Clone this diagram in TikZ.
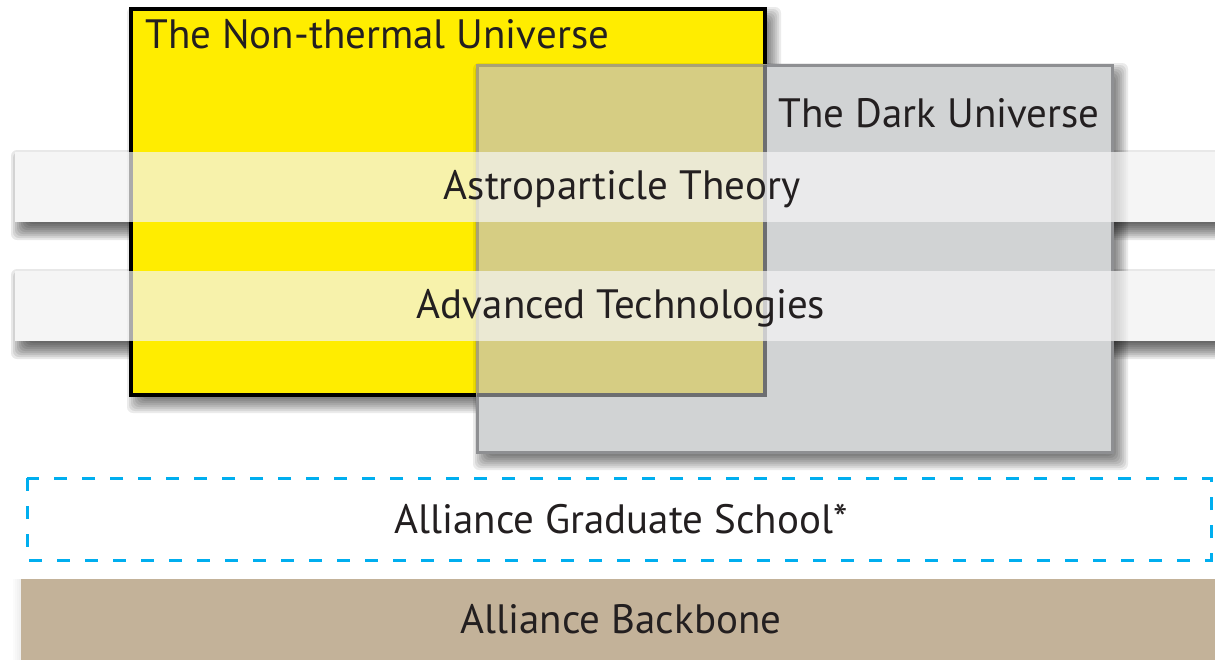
\documentclass[tikz,border=0pt]{standalone}
\usepackage{fontspec}
\setmainfont{PT Sans}
\usepackage{tikz}
\definecolor{ntYellow}{HTML}{FFED00}
\definecolor{darkGrey}{HTML}{D1D3D4}
\definecolor{darkEdge}{HTML}{8E8F92}
\definecolor{mixOlive}{HTML}{D6CD83}
\definecolor{mixEdge}{HTML}{A9A274}
\definecolor{ntEdgeIn}{HTML}{6D6E71}
\definecolor{bandGrey}{HTML}{F5F5F5}
\definecolor{schoolCyan}{HTML}{00AEEF}
\definecolor{boneTan}{HTML}{C3B299}
\definecolor{inkText}{HTML}{231F20}

% soft drop shadow: #1,#2 top left, #3,#4 bottom right, #5 opacity of one step
\newcommand{\softdrop}[5]{%
  \foreach \r in {0,...,9}
    \fill[black, fill opacity=#5, rounded corners=3pt]
      (#1-4+2*\r,#2-2+2*\r) rectangle (#3+16-2*\r,#4+18-2*\r);
}

\begin{document}
\begin{tikzpicture}[
    x=0.5pt, y=-0.5pt,
    bandtext/.style={font=\fontsize{20.5}{23}\selectfont, text=inkText, inner sep=0pt}
]
\clip (0,0) rectangle (1215,659);
\fill[white] (0,0) rectangle (1215,659);

% shadows of the two bands lie under the boxes
\softdrop{15}{152}{1240}{222}{0.09}
\softdrop{15}{271}{1240}{341}{0.09}
\foreach \top in {152,271}
    \fill[bandGrey] (15,\top) rectangle (1240,\top+70);

% science boxes
\softdrop{131}{9}{765}{395}{0.08}
\path[fill=ntYellow, draw=black, line width=1.75pt] (131,9) rectangle (765,395);
\softdrop{477}{65}{1112}{452}{0.08}
\fill[darkGrey] (477,65) rectangle (1112,452);
\fill[mixOlive] (477,65) rectangle (765,395);
\draw[darkEdge, line width=1.5pt] (477,65) rectangle (1112,452);
\draw[mixEdge, line width=1.5pt] (477,395) -- (477,65) -- (765,65);
\draw[ntEdgeIn, line width=1.75pt] (765,65) -- (765,395) -- (477,395);

% bands on top
\foreach \top in {152,271}
    \fill[bandGrey, fill opacity=0.7] (15,\top) rectangle (1240,\top+70);

\node[bandtext, anchor=base west] (nonthermal) at (145,48) {The Non-thermal Universe};
\node[bandtext, anchor=base east] (dark) at (1100,127) {The Dark Universe};
\node[bandtext, anchor=base] (theory) at (622,199) {Astroparticle Theory};
\node[bandtext, anchor=base] (tech) at (621,318) {Advanced Technologies};

% school and backbone
\draw[schoolCyan, line width=1.5pt, dash pattern=on 6.5pt off 7.5pt] (27,478) rectangle (1211,560);
\node[bandtext, anchor=base] (school) at (621,533) {Alliance Graduate School*};

\foreach \r in {0,...,4}
    \fill[black, fill opacity=0.015] (21-\r*2,579) rectangle (1240,690);
\fill[boneTan] (21,579) rectangle (1240,690);
\node[bandtext, anchor=base] (backbone) at (621,633) {Alliance Backbone};
\end{tikzpicture}
\end{document}
